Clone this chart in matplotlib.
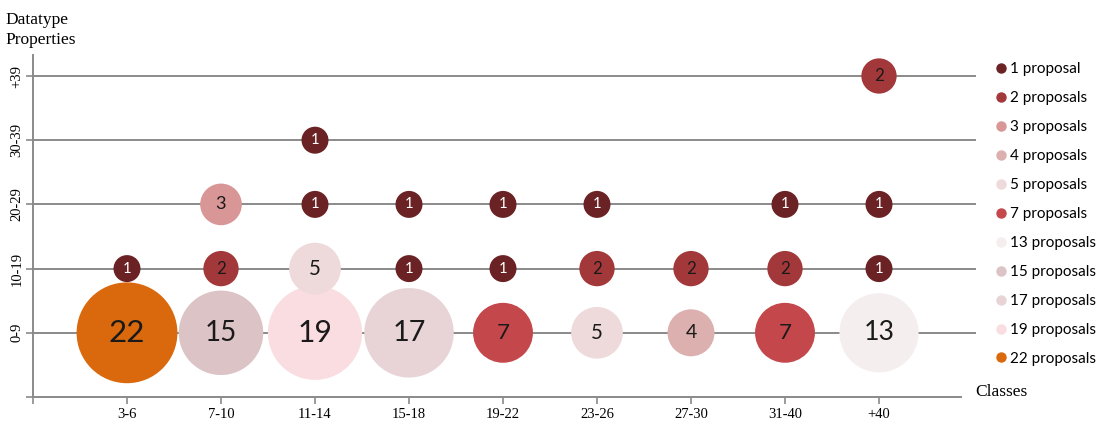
import numpy as np
import matplotlib.pyplot as plt
from matplotlib.lines import Line2D

# categories
classes = ['3-6', '7-10', '11-14', '15-18', '19-22', '23-26', '27-30', '31-40', '+40']
prop_levels = ['0-9', '10-19', '20-29', '30-39', '+39']

# number of proposals per (class, property range); 0 = no bubble
row_0_9 = [22, 15, 19, 17, 7, 5, 4, 7, 13]
row_10_19 = [1, 2, 5, 1, 1, 2, 2, 2, 1]
row_20_29 = [0, 3, 1, 1, 1, 1, 0, 1, 1]
row_30_39 = [0, 0, 1, 0, 0, 0, 0, 0, 0]
row_39_plus = [0, 0, 0, 0, 0, 0, 0, 0, 2]
rows = [row_0_9, row_10_19, row_20_29, row_30_39, row_39_plus]

legend_counts = [1, 2, 3, 4, 5, 7, 13, 15, 17, 19, 22]
legend_colors = ['#6b2224', '#a3383a', '#d99697', '#ddb0b0', '#efdadb', '#c4484b',
                 '#f4eeee', '#dcc3c6', '#e8d4d6', '#f9dde1', '#d9690c']
color_of = dict(zip(legend_counts, legend_colors))

W, H = 1103, 428
fig = plt.figure(figsize=(W / 100, H / 100), dpi=100)
ax = fig.add_axes([33 / W, (428 - 397) / H, (961 - 33) / W, (397 - 55) / H])

grid_c = '#8a8a8a'
x = np.arange(1, len(classes) + 1)

# horizontal gridlines, running a bit past the x-axis end
for lv in range(1, len(prop_levels) + 1):
    ax.axhline(lv, xmin=0, xmax=(975 - 33) / (961 - 33), color=grid_c, lw=1.4,
               zorder=1, clip_on=False)


def bubble_px(n):
    # bubble diameter in pixels
    return 7 + 20 * np.sqrt(n)


for lv, row in enumerate(rows, start=1):
    for xi, n in zip(x, row):
        if n == 0:
            continue
        d = bubble_px(n) * 0.72
        ax.scatter([xi], [lv], s=d ** 2, color=color_of[n], edgecolors='none',
                   zorder=2 + lv)
        tc = 'white' if n == 1 else '#1a1a1a'
        ax.text(xi, lv, str(n), ha='center', va='center', color=tc,
                fontsize=6.5 + 0.16 * bubble_px(n), family='Lato', zorder=10)

ax.set_xlim(0, (961 - 33) / 94)
ax.set_ylim(0, (397 - 55) / 64.2)

ax.set_xticks(np.arange(0, len(classes) + 1))
ax.set_xticklabels([''] + classes, family='Liberation Serif', fontsize=10.5)
ax.set_yticks(np.arange(0, len(prop_levels) + 1))
ax.set_yticklabels([''] + prop_levels, family='Liberation Serif', fontsize=10.5,
                   rotation=90, va='center')
ax.tick_params(axis='both', direction='out', length=5, color=grid_c, width=1.2,
               pad=2)
ax.tick_params(axis='x', pad=3)

for side in ['top', 'right']:
    ax.spines[side].set_visible(False)
for side in ['left', 'bottom']:
    ax.spines[side].set_color(grid_c)
    ax.spines[side].set_linewidth(1.4)

fig.text(5 / W, 1 - 30 / H, 'Datatype\nProperties', family='Liberation Serif',
         fontsize=12.5, va='center', ha='left', linespacing=1.35)
fig.text(975 / W, 1 - 392 / H, 'Classes', family='Liberation Serif',
         fontsize=12.5, va='center', ha='left')

handles = [Line2D([], [], marker='o', ls='none', color=c, markersize=6.5)
           for c in legend_colors]
labels = ['1 proposal'] + ['%d proposals' % n for n in legend_counts[1:]]
fig.legend(handles, labels, loc='upper left', bbox_to_anchor=(986 / W, 1 - 56 / H),
           frameon=False, prop={'family': 'Lato', 'size': 11},
           handletextpad=0.0, labelspacing=0.98, borderaxespad=0, handlelength=1.2)

fig.savefig('out.png', dpi=100)
